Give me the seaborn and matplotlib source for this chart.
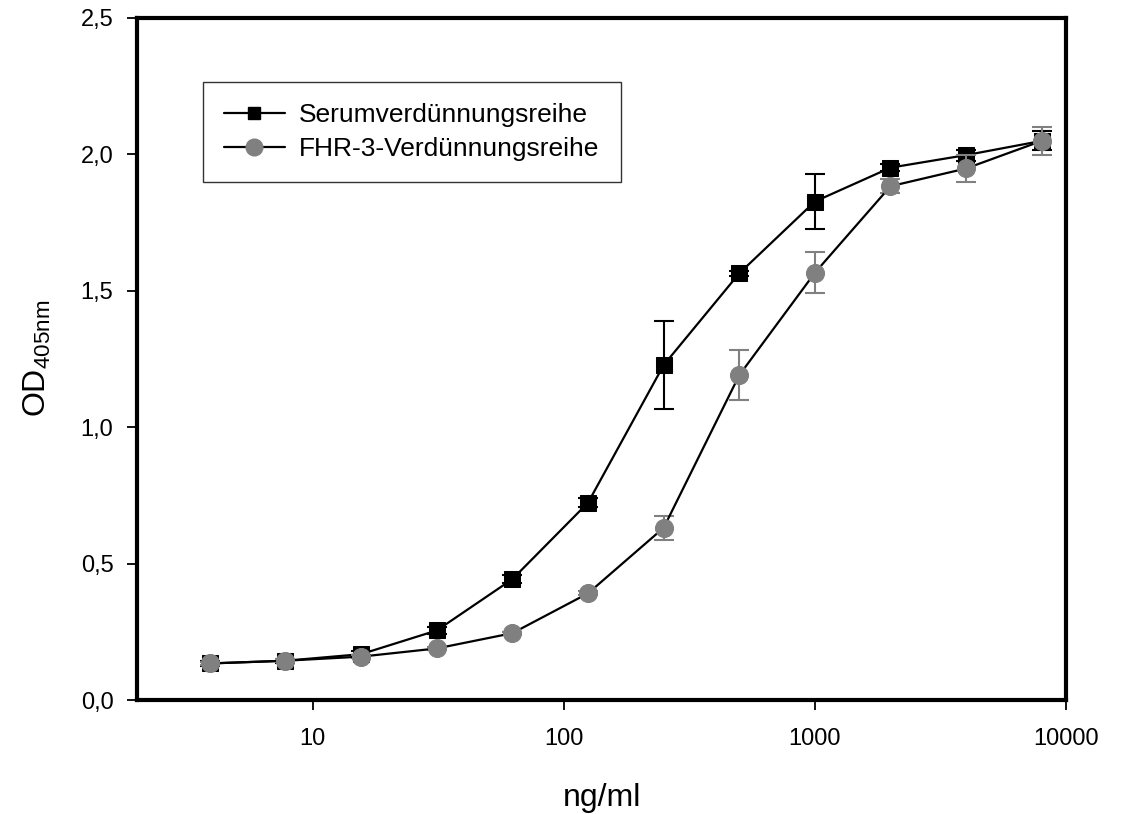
import numpy as np
import pandas as pd
import matplotlib
matplotlib.use("Agg")
import matplotlib.pyplot as plt
import seaborn as sns
from matplotlib.lines import Line2D
from matplotlib.ticker import FixedLocator, NullLocator

conc = [3.9, 7.8, 15.6, 31.25, 62.5, 125, 250, 500, 1000, 2000, 4000, 8000]
serum = [0.134, 0.144, 0.168, 0.255, 0.443, 0.723, 1.227, 1.563, 1.826, 1.950, 1.996, 2.048]
serum_err = [0.008, 0.008, 0.010, 0.012, 0.015, 0.016, 0.160, 0.008, 0.101, 0.012, 0.020, 0.035]
fhr3 = [0.134, 0.144, 0.159, 0.189, 0.245, 0.391, 0.631, 1.190, 1.565, 1.882, 1.947, 2.048]
fhr3_err = [0.006, 0.006, 0.006, 0.006, 0.006, 0.008, 0.044, 0.092, 0.075, 0.026, 0.050, 0.050]
labels = ["Serumverdünnungsreihe", "FHR-3-Verdünnungsreihe"]
xticks = [10, 100, 1000, 10000]
yticks = [0.0, 0.5, 1.0, 1.5, 2.0, 2.5]

sns.set_style("white")
plt.rcParams['font.family'] = ['Liberation Sans', 'DejaVu Sans']
plt.rcParams['text.color'] = 'black'
plt.rcParams['axes.labelcolor'] = 'black'
plt.rcParams['xtick.color'] = 'black'
plt.rcParams['ytick.color'] = 'black'

fig = plt.figure(figsize=(11.25, 8.14), dpi=100)
ax = fig.add_axes([0.1218, 0.14, 0.8258, 0.8385])

gray = "#808080"
df1 = pd.DataFrame({"x": conc, "y": serum})
df2 = pd.DataFrame({"x": conc, "y": fhr3})

ax.errorbar(conc, serum, yerr=serum_err, fmt="none", ecolor="black", elinewidth=1.5,
            capsize=7.5, capthick=1.5, zorder=2)
sns.lineplot(data=df1, x="x", y="y", ax=ax, color="black", lw=1.6, marker="s",
             markersize=11, markerfacecolor="black", markeredgecolor="black", zorder=3)
ax.errorbar(conc, fhr3, yerr=fhr3_err, fmt="none", ecolor=gray, elinewidth=1.5,
            capsize=7.5, capthick=1.5, zorder=4)
sns.lineplot(data=df2, x="x", y="y", ax=ax, color="black", lw=1.6, marker="o",
             markersize=13, markerfacecolor=gray, markeredgecolor=gray, zorder=5)

ax.set_xscale("log")
ax.set_xlim(2, 10000)
ax.set_ylim(0, 2.5)
ax.xaxis.set_major_locator(FixedLocator(xticks))
ax.xaxis.set_minor_locator(NullLocator())
ax.set_xticklabels([str(t) for t in xticks], fontsize=17)
ax.set_yticks(yticks)
ax.set_yticklabels([f"{t:.1f}".replace(".", ",") for t in yticks], fontsize=17)
ax.tick_params(axis="both", direction="out", length=7, width=1.3, color="black",
               bottom=True, left=True)
ax.tick_params(axis="x", pad=13)
ax.tick_params(axis="y", pad=10)

for s in ax.spines.values():
    s.set_linewidth(3)
    s.set_color("black")
    s.set_visible(True)

ax.set_xlabel("ng/ml", fontsize=23, labelpad=24)
ax.set_ylabel(r"OD$_{\mathregular{405nm}}$", fontsize=23, labelpad=20)

handles = [
    Line2D([], [], color="black", lw=1.6, marker="s", markersize=9,
           markerfacecolor="black", markeredgecolor="black"),
    Line2D([], [], color="black", lw=1.6, marker="o", markersize=12,
           markerfacecolor=gray, markeredgecolor=gray),
]
leg = ax.legend(handles, labels, loc="upper left", bbox_to_anchor=(0.071, 0.9055),
                borderaxespad=0, fontsize=19, frameon=True, fancybox=False,
                edgecolor="black", borderpad=0.8, handlelength=2.3,
                handletextpad=0.55, labelspacing=0.38)
leg.get_frame().set_linewidth(1.0)
for t in leg.get_texts():
    t.set_color("black")

fig.savefig("out.png", dpi=100)
